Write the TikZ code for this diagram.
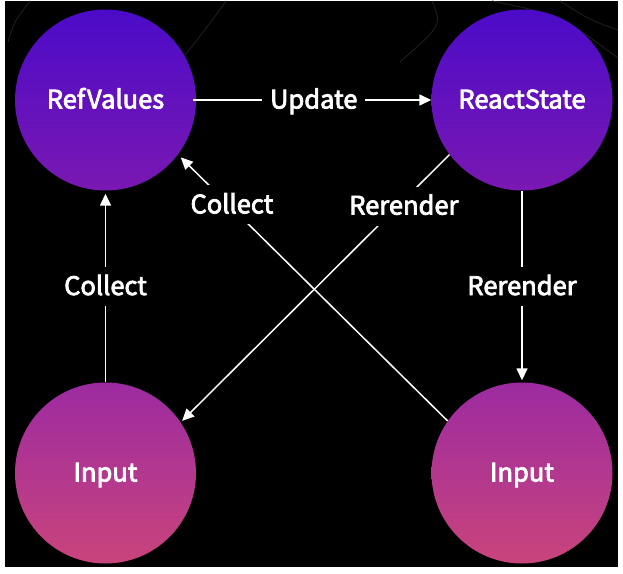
\documentclass[tikz,border=0pt]{standalone}
\usepackage{fontspec}
\newfontfamily\lblfont{Noto Sans CJK SC}[FakeBold=3]
\usetikzlibrary{arrows.meta}
\definecolor{topA}{RGB}{75,11,200}
\definecolor{topB}{RGB}{122,24,178}
\definecolor{botA}{RGB}{156,43,160}
\definecolor{botB}{RGB}{201,68,124}
\definecolor{faint}{RGB}{30,30,30}
\begin{document}
\begin{tikzpicture}[x=1pt,y=-1pt,
  bubble/.style={circle, minimum size=181pt, inner sep=0pt, text=white,
    text height=17pt, text depth=0pt,
    font=\lblfont\fontsize{25.5}{30}\selectfont},
  upper/.style={bubble, top color=topA, bottom color=topB},
  lower/.style={bubble, top color=botA, bottom color=botB},
  conn/.style={draw=white, line width=1.5pt, -{Triangle[length=12pt,width=11pt]}},
  lbl/.style={fill=black, text=white, inner xsep=8pt, inner ysep=11pt,
    text height=17pt, text depth=0pt,
    font=\lblfont\fontsize{25.5}{30}\selectfont},
  bgcurve/.style={draw=faint, line width=0.9pt}]
\useasboundingbox (0,0) rectangle (623,573);
\fill[white] (0,0) rectangle (623,573);
\fill[black] (5,1) rectangle (618,567);
% faint background curves
\draw[bgcurve] (8,42) .. controls (14,22) .. (30,1);
\draw[bgcurve] (226,1) .. controls (205,30) .. (178,64);
\draw[bgcurve] (432,1) .. controls (442,25) .. (400,62);
\draw[bgcurve] (492,1) .. controls (560,15) .. (618,58);
\draw[bgcurve] (560,1) .. controls (590,20) .. (618,30);
% nodes
\node[upper] (ref) at (105.5,100) {RefValues};
\node[upper] (react) at (522,100) {ReactState};
\node[lower] (inL) at (105.5,473) {Input};
\node[lower] (inR) at (522,473) {Input};
% connectors
\draw[conn, shorten <=-3pt] (ref) -- node[lbl]{Update} (react);
\draw[conn, shorten >=3pt] (inL) -- node[lbl]{Collect} (ref);
\draw[conn, shorten >=2pt] (react) -- node[lbl]{Rerender} (inR);
\draw[conn, shorten >=4pt] (inR.145) -- node[lbl, pos=0.8, yshift=3pt]{Collect} (ref.-37);
\draw[conn, shorten >=2pt] (react.-143) -- node[lbl, pos=0.17, yshift=-6pt]{Rerender} (inL.34);
\end{tikzpicture}
\end{document}
